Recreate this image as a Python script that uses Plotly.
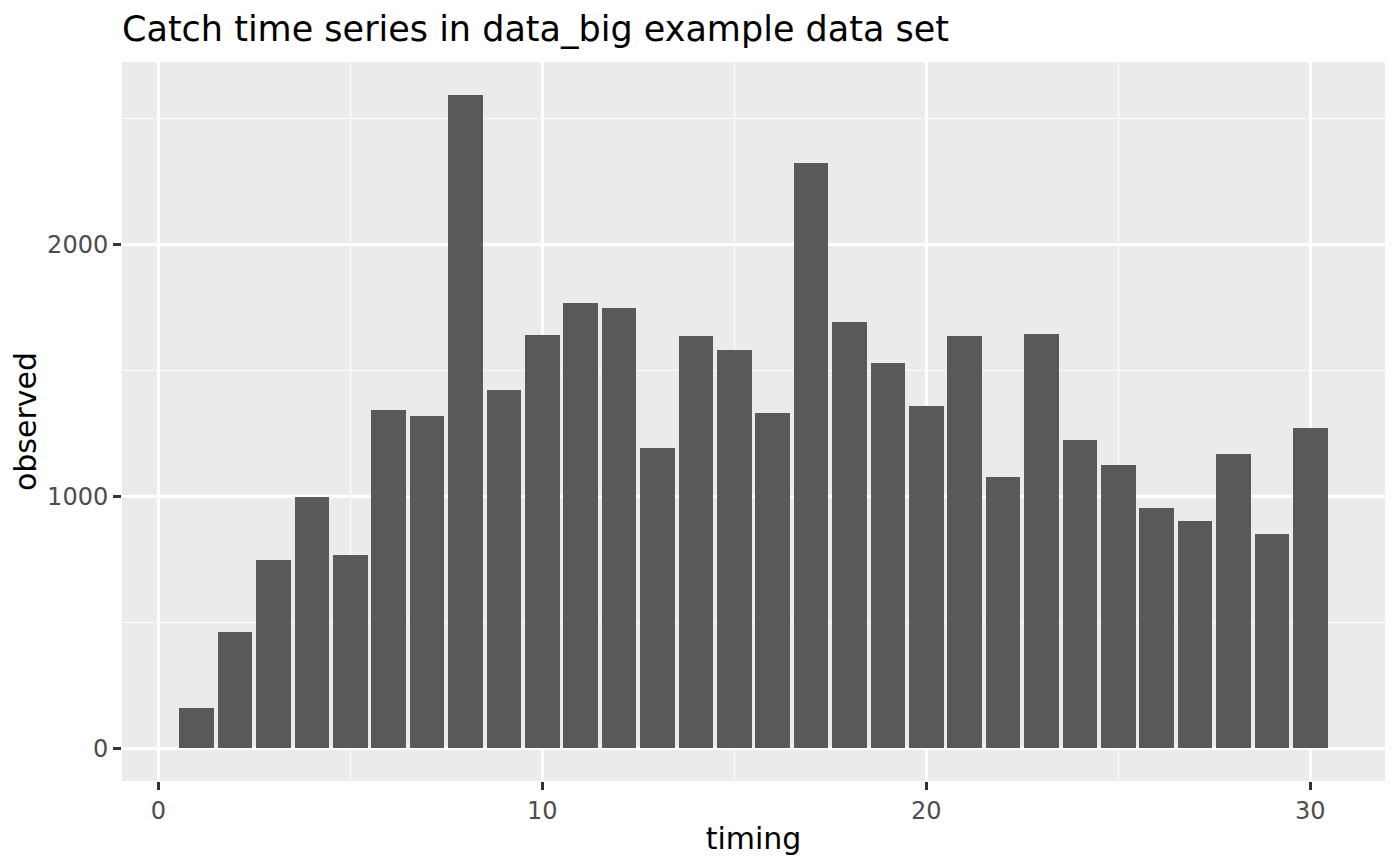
import plotly.graph_objects as go

# Catch time series (data_big example data set)
timing = list(range(1, 31))
observed = [159, 461, 746, 997, 766, 1343, 1320, 2596, 1423, 1642,
            1768, 1749, 1192, 1638, 1582, 1331, 2326, 1693, 1530, 1359,
            1638, 1077, 1646, 1224, 1125, 954, 902, 1168, 850, 1272]

title_text = "Catch time series in data_big example data set"
x_label = "timing"
y_label = "observed"

BAR_WIDTH = 0.9
FONT = "DejaVu Sans"
# the page body adds an 8px margin, so shrink the figure to fit the window
PAGE_OFFSET = 8
FIG_W, FIG_H = 1400 - PAGE_OFFSET, 865 - PAGE_OFFSET

# ggplot-style 5% expansion around the data
x_lo, x_hi = min(timing) - BAR_WIDTH / 2, max(timing) + BAR_WIDTH / 2
x_pad = 0.05 * (x_hi - x_lo)
y_lo, y_hi = 0, max(observed)
y_pad = 0.05 * (y_hi - y_lo)

fig = go.Figure(go.Bar(
    x=timing,
    y=observed,
    width=BAR_WIDTH,
    marker=dict(color="#595959", line=dict(width=0)),
))

axis_common = dict(
    showgrid=True,
    gridcolor="white",
    gridwidth=2.8,
    zeroline=False,
    showline=False,
    ticks="outside",
    ticklen=8,
    tickwidth=2.8,
    tickcolor="#333333",
    tickfont=dict(family=FONT, size=24, color="#4D4D4D"),
)

fig.update_layout(
    width=FIG_W,
    height=FIG_H,
    paper_bgcolor="white",
    plot_bgcolor="#EBEBEB",
    margin=dict(l=122 - PAGE_OFFSET, r=15, t=62 - PAGE_OFFSET, b=84),
    showlegend=False,
    bargap=0,
    title=dict(
        text=title_text,
        font=dict(family=FONT, size=35, color="black"),
        x=0, xref="paper", xanchor="left",
        y=1 - 21 / FIG_H, yref="container", yanchor="middle",
    ),
    xaxis=dict(
        range=[x_lo - x_pad, x_hi + x_pad],
        tick0=0, dtick=10,
        minor=dict(tick0=0, dtick=5, showgrid=True, gridcolor="white", gridwidth=1.4),
        title=dict(text=x_label, font=dict(family=FONT, size=30, color="black"), standoff=4),
        **axis_common,
    ),
    yaxis=dict(
        range=[y_lo - y_pad, y_hi + y_pad],
        tick0=0, dtick=1000,
        minor=dict(tick0=0, dtick=500, showgrid=True, gridcolor="white", gridwidth=1.4),
        title=dict(text=y_label, font=dict(family=FONT, size=30, color="black"), standoff=6),
        **axis_common,
    ),
)

fig.write_html("out.html")
